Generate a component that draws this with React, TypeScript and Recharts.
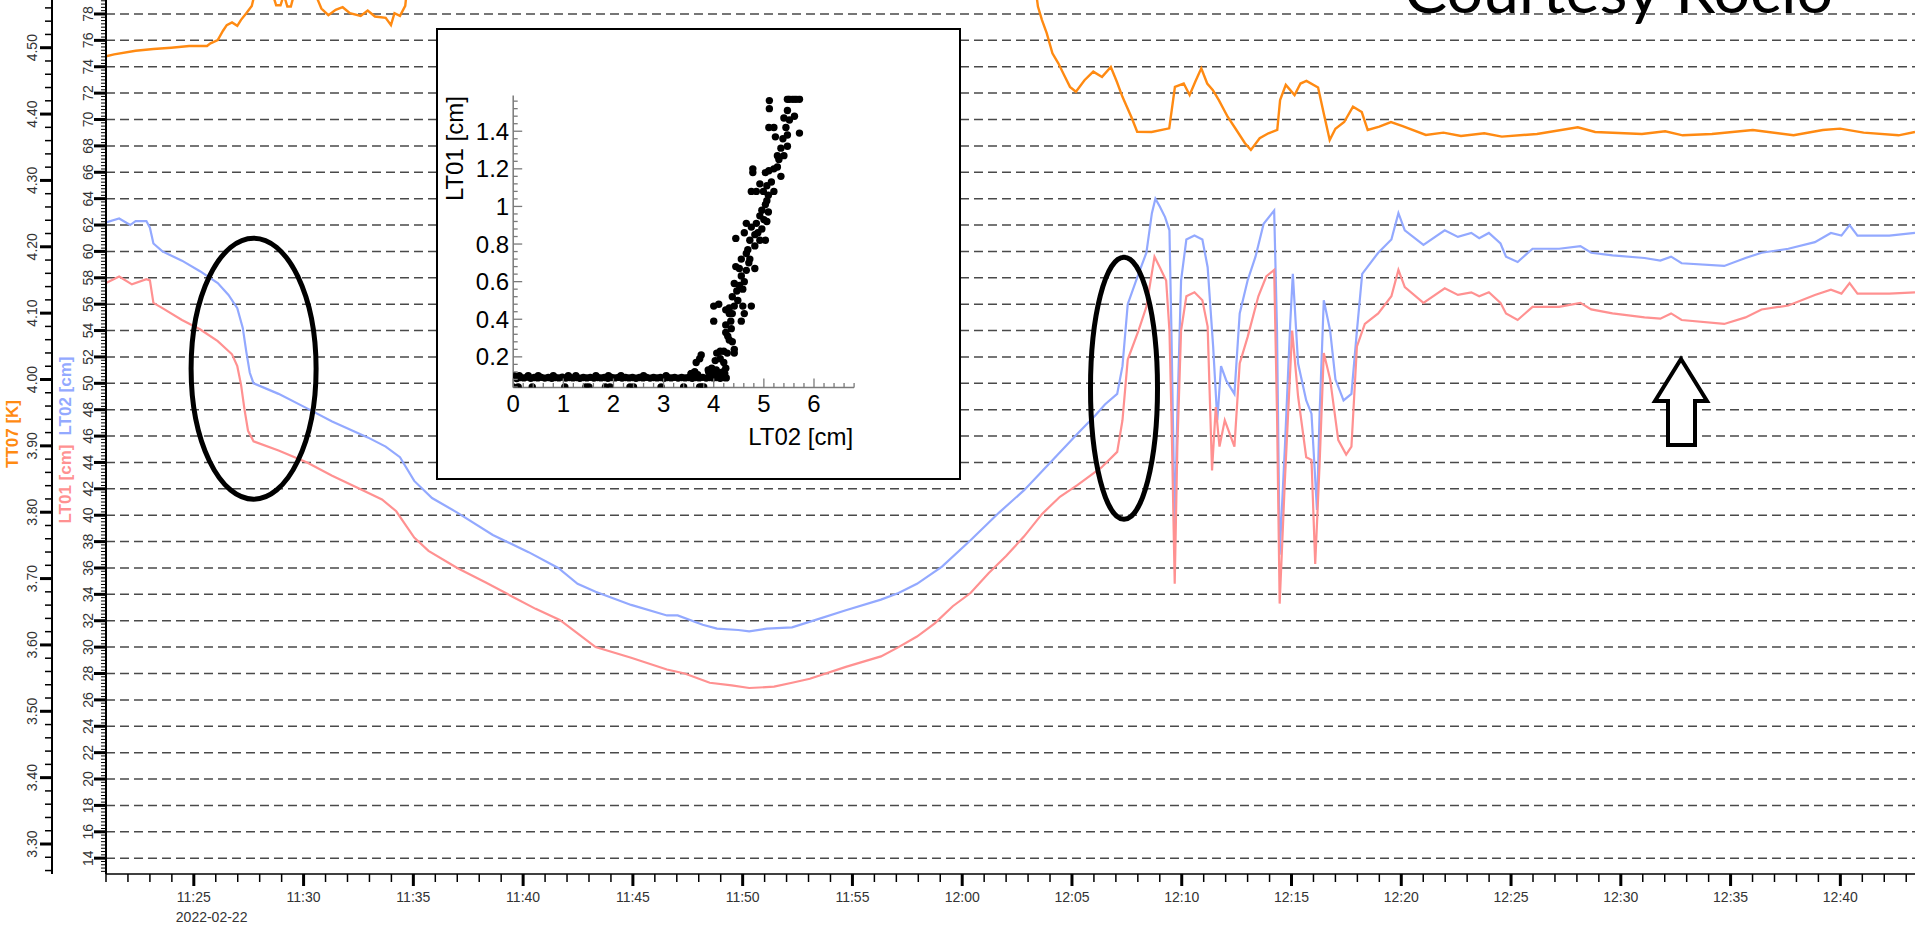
import React from 'react';
import { LineChart, Line, XAxis, YAxis, ReferenceLine, ScatterChart, Scatter } from 'recharts';

// ---------- time series (t = minutes after 11:00) ----------
const LT02: [number, number][] = [
  [21.0,62.2],[21.6,62.5],[22.1,62.0],[22.35,62.3],[22.84,62.3],[23.0,61.8],[23.16,60.6],[23.57,60.0],[24.46,59.3],[25.28,58.5],
  [26.09,57.6],[26.58,56.7],[26.98,55.7],[27.23,54.2],[27.39,52.4],[27.55,50.8],[27.72,50.0],[28.86,49.2],[30.16,48.1],[31.3,47.1],
  [32.92,45.9],[33.74,45.2],[34.39,44.4],[35.04,42.6],[35.85,41.3],[37.0,40.2],[38.62,38.5],[40.25,37.2],[41.6,36.0],[42.48,34.8],
  [43.3,34.2],[44.92,33.2],[46.55,32.4],[47.04,32.4],[48.18,31.7],[48.83,31.4],[49.8,31.3],[50.3,31.2],[51.1,31.4],[52.25,31.5],
  [53.4,32.1],[54.7,32.8],[56.3,33.6],[57.1,34.1],[57.94,34.8],[59.08,36.1],[60.38,38.1],[61.68,40.2],[62.82,41.9],[63.96,43.9],
  [65.26,46.2],[66.08,47.6],[66.5,48.4],[67.06,49.2],[67.3,51.3],[67.54,56.0],[68.03,58.3],[68.39,59.9],[68.64,62.9],[68.8,64.0],
  [69.0,63.4],[69.24,62.6],[69.44,61.6],[69.53,54.0],[69.68,38.9],[69.8,47.7],[69.97,57.8],[70.21,60.9],[70.58,61.2],[70.94,60.9],
  [71.18,58.8],[71.43,52.8],[71.62,47.2],[71.79,51.3],[72.03,50.2],[72.4,49.2],[72.64,55.3],[73.0,57.8],[73.36,59.6],[73.73,62.1],
  [74.21,63.1],[74.34,54.0],[74.46,37.0],[74.7,45.2],[74.94,54.5],[75.06,58.3],[75.3,51.5],[75.67,48.7],[75.91,47.7],[76.16,40.4],
  [76.28,47.7],[76.47,56.3],[76.76,54.0],[77.0,50.3],[77.37,48.7],[77.73,49.2],[77.98,54.0],[78.22,58.3],[78.95,59.9],[79.55,60.9],
  [79.87,62.9],[80.16,61.6],[81.01,60.5],[81.98,61.6],[82.58,61.1],[83.19,61.4],[83.55,61.0],[83.99,61.4],[84.52,60.6],[84.77,59.6],
  [85.3,59.2],[85.98,60.2],[87.19,60.2],[88.16,60.4],[88.65,59.9],[89.62,59.7],[91.08,59.5],[91.8,59.3],[92.29,59.6],[92.77,59.1],
  [94.71,58.9],[95.68,59.5],[96.41,59.9],[97.63,60.2],[98.84,60.7],[99.57,61.4],[100.05,61.2],[100.42,62.0],[100.78,61.2],[102.23,61.2],
  [103.4,61.4],
];

const LT01: [number, number][] = [
  [21.0,57.6],[21.6,58.1],[22.18,57.5],[22.84,57.9],[23.0,57.8],[23.16,56.1],[23.57,55.7],[24.46,54.8],[25.28,54.1],[26.09,53.2],
  [26.74,52.2],[26.98,51.3],[27.15,49.9],[27.31,48.0],[27.47,46.4],[27.72,45.6],[28.86,44.9],[30.16,44.0],[31.3,43.0],[32.43,42.1],
  [33.57,41.2],[34.22,40.3],[35.04,38.3],[35.69,37.3],[37.0,36.0],[38.3,34.9],[39.43,33.9],[40.57,32.9],[41.67,32.06],[42.48,31.05],
  [43.3,30.0],[44.92,29.2],[46.55,28.3],[47.36,28.0],[48.5,27.3],[49.5,27.1],[50.3,26.9],[51.43,27.0],[52.25,27.3],[53.06,27.6],
  [54.7,28.5],[56.3,29.3],[57.1,30.0],[57.94,30.8],[58.75,31.8],[59.57,33.1],[60.38,34.1],[61.2,35.6],[62.0,36.9],[62.82,38.4],
  [63.64,40.1],[64.45,41.4],[65.26,42.3],[66.33,43.6],[67.06,44.8],[67.3,47.2],[67.54,51.8],[68.03,54.0],[68.39,55.8],[68.76,59.6],
  [69.0,58.8],[69.29,57.8],[69.44,54.0],[69.53,47.7],[69.68,34.8],[69.8,45.2],[69.97,54.0],[70.21,56.6],[70.58,56.9],[70.94,56.3],
  [71.18,54.3],[71.38,43.4],[71.55,48.2],[71.72,45.2],[71.96,47.2],[72.4,45.2],[72.64,51.5],[73.0,53.5],[73.49,56.6],[73.85,58.1],
  [74.21,58.6],[74.34,47.7],[74.46,33.3],[74.7,42.7],[75.03,54.0],[75.3,49.0],[75.67,44.4],[75.91,44.2],[76.08,36.3],[76.28,43.9],
  [76.47,52.3],[76.76,50.3],[77.13,45.7],[77.49,44.6],[77.73,45.2],[77.98,52.8],[78.34,54.5],[78.95,55.3],[79.55,56.6],[79.87,58.6],
  [80.16,57.3],[81.01,56.1],[81.98,57.2],[82.58,56.7],[83.19,56.9],[83.55,56.6],[83.99,56.9],[84.52,56.1],[84.77,55.3],[85.3,54.8],
  [85.98,55.8],[87.19,55.8],[88.16,56.1],[88.65,55.6],[89.62,55.3],[91.08,55.0],[91.8,54.9],[92.29,55.3],[92.77,54.8],[94.71,54.5],
  [95.68,55.0],[96.41,55.6],[97.63,55.9],[98.84,56.7],[99.57,57.1],[100.05,56.8],[100.42,57.6],[100.78,56.8],[102.23,56.8],[103.4,56.9],
];

const TT07: [number, number][] = [
  [21.0,4.487],[21.37,4.490],[22.35,4.4955],[23.16,4.498],[23.97,4.500],[24.79,4.5025],[25.6,4.5025],[25.76,4.5066],[26.09,4.5116],[26.33,4.5256],
  [26.5,4.534],[26.74,4.538],[26.98,4.533],[27.15,4.542],[27.39,4.552],[27.64,4.563],[27.8,4.585],[28.3,4.6],[28.6,4.58],[28.75,4.564],
  [28.95,4.564],[29.1,4.58],[29.26,4.562],[29.42,4.562],[29.6,4.585],[30.3,4.6],[30.81,4.559],[31.13,4.549],[31.46,4.557],[31.78,4.561],
  [32.11,4.552],[32.6,4.548],[32.92,4.556],[33.25,4.547],[33.74,4.545],[33.98,4.534],[34.14,4.552],[34.39,4.548],[34.63,4.563],[34.75,4.6],
  [40.0,4.65],[50.0,4.65],[60.0,4.65],[63.3,4.6],[63.45,4.562],[63.63,4.542],[63.85,4.522],[64.11,4.4916],[64.38,4.4765],[64.64,4.459],
  [64.91,4.441],[65.18,4.4337],[65.57,4.451],[65.97,4.464],[66.37,4.456],[66.77,4.471],[67.04,4.449],[67.3,4.426],[67.7,4.396],[67.97,4.3734],
  [68.63,4.373],[69.43,4.3785],[69.69,4.441],[70.09,4.446],[70.36,4.4287],[70.62,4.449],[70.89,4.469],[71.16,4.446],[71.42,4.436],[71.69,4.421],
  [72.09,4.396],[72.49,4.376],[72.88,4.356],[73.15,4.346],[73.55,4.3635],[73.95,4.371],[74.35,4.376],[74.48,4.421],[74.74,4.444],[75.14,4.4287],
  [75.41,4.446],[75.68,4.45],[76.21,4.44],[76.47,4.401],[76.74,4.361],[77.0,4.378],[77.4,4.388],[77.8,4.411],[78.2,4.403],[78.47,4.376],
  [79.0,4.381],[79.53,4.388],[80.06,4.382],[81.12,4.3685],[81.92,4.372],[82.72,4.367],[83.78,4.371],[84.58,4.366],[86.18,4.37],[88.04,4.38],
  [88.83,4.373],[90.96,4.37],[92.02,4.374],[92.82,4.368],[94.15,4.37],[96.01,4.376],[97.87,4.368],[99.2,4.376],[99.99,4.378],[101.06,4.372],
  [102.65,4.368],[103.4,4.373],
];

// ---------- inset scatter: [LT02, LT01] ----------
const SCATTER_FLAT: [number, number][] = [
  [0,0.09],[0.07,0.085],[0.14,0.09],[0.21,0.088],[0.28,0.092],[0.35,0.086],[0.42,0.09],[0.49,0.088],[0.56,0.091],[0.63,0.087],
  [0.7,0.09],[0.77,0.086],[0.84,0.09],[0.91,0.088],[0.98,0.092],[1.05,0.087],[1.12,0.09],[1.19,0.088],[1.26,0.09],[1.33,0.086],
  [1.4,0.09],[1.47,0.088],[1.54,0.091],[1.61,0.087],[1.68,0.09],[1.75,0.088],[1.82,0.09],[1.89,0.086],[1.96,0.09],[2.03,0.088],
  [2.1,0.091],[2.17,0.087],[2.24,0.09],[2.31,0.088],[2.38,0.09],[2.45,0.086],[2.52,0.09],[2.59,0.088],[2.66,0.091],[2.73,0.087],
  [2.8,0.09],[2.87,0.088],[2.94,0.09],[3.01,0.086],[3.08,0.09],[3.15,0.088],[3.22,0.091],[3.29,0.087],[3.36,0.09],[3.43,0.088],
  [3.5,0.09],[3.57,0.086],[3.64,0.09],[3.71,0.088],[3.78,0.091],[3.85,0.087],[3.92,0.09],[3.99,0.088],[4.06,0.09],[4.13,0.086],
  [4.2,0.09],[4.25,0.088],
  [0.02,0.1],[0.12,0.1],[0.3,0.1],[0.5,0.1],[0.8,0.1],[1.1,0.1],[1.25,0.1],[1.65,0.1],[1.9,0.1],[2.15,0.1],
  [2.6,0.1],[3.05,0.1],[3.55,0.11],[3.62,0.12],[3.68,0.105],[3.9,0.12],[4.0,0.11],[4.05,0.13],[4.12,0.115],[4.18,0.12],[4.22,0.11],
  [0,0.04],[0.1,0.04],[0.38,0.04],[1.03,0.04],[1.45,0.04],[1.51,0.04],[1.84,0.04],[1.93,0.04],[2.33,0.04],[2.4,0.04],
  [2.95,0.04],[3.4,0.04],[3.72,0.04],[3.76,0.04],[3.8,0.04],
];

const SCATTER_RISE: [number, number][] = [
  [5.11,1.563],[5.11,1.52],[5.51,1.57],[5.47,1.57],[5.58,1.57],[5.64,1.57],[5.71,1.57],[5.47,1.51],[5.40,1.47],[5.61,1.48],
  [5.51,1.46],[5.10,1.42],[5.20,1.42],[5.23,1.37],[5.44,1.42],[5.47,1.38],[5.71,1.39],[5.34,1.31],[5.47,1.32],[5.27,1.27],
  [5.40,1.27],[5.20,1.20],[5.27,1.21],[5.34,1.16],[5.10,1.19],[5.03,1.18],[4.78,1.20],[4.78,1.18],[4.92,1.12],[5.06,1.11],
  [5.20,1.08],[4.75,1.08],[4.85,1.08],[4.99,1.08],[5.09,1.06],[5.06,1.03],[5.03,1.01],[4.96,0.98],[5.09,0.97],[4.92,0.95],
  [5.06,0.92],[4.65,0.91],[4.75,0.89],[4.85,0.91],[4.96,0.88],[4.82,0.85],[4.92,0.82],[5.03,0.82],[4.72,0.82],[4.68,0.77],
  [4.82,0.79],[4.44,0.83],[4.61,0.86],[4.65,0.75],[4.55,0.72],[4.72,0.72],[4.82,0.67],[4.65,0.66],[4.51,0.67],[4.44,0.68],
  [4.55,0.63],[4.61,0.60],[4.51,0.58],[4.41,0.59],[4.58,0.56],[4.37,0.52],[4.48,0.50],[4.58,0.47],[4.75,0.47],[4.41,0.47],
  [4.31,0.46],[4.10,0.48],[4.00,0.47],[4.00,0.39],[4.24,0.45],[4.31,0.43],[4.37,0.43],[4.55,0.39],[4.61,0.43],[4.24,0.37],
  [4.34,0.39],[4.24,0.33],[4.31,0.29],[4.37,0.28],[4.41,0.24],[4.41,0.22],[4.27,0.22],[4.20,0.23],[4.13,0.23],[4.06,0.22],
  [4.03,0.18],[4.13,0.19],[4.20,0.17],[4.24,0.14],[3.96,0.14],[3.89,0.13],[3.65,0.17],[3.75,0.21],[3.72,0.19],[3.62,0.12],
  [3.55,0.11],[4.28,0.31],[4.35,0.35],[4.46,0.55],[4.7,0.7],[4.88,0.86],[5.0,0.93],[5.15,1.13],[5.3,1.25],[5.38,1.36],
];

// ---------- tick labels ----------
const TIME_MAJOR_MIN = [25, 30, 35, 40, 45, 50, 55, 60, 65, 70, 75, 80, 85, 90, 95, 100];
const TIME_MAJOR_LABELS = ['11:25', '11:30', '11:35', '11:40', '11:45', '11:50', '11:55', '12:00', '12:05', '12:10', '12:15', '12:20', '12:25', '12:30', '12:35', '12:40'];
const DATE_LABEL = '2022-02-22';
const LT_LABELS = [14, 16, 18, 20, 22, 24, 26, 28, 30, 32, 34, 36, 38, 40, 42, 44, 46, 48, 50, 52, 54, 56, 58, 60, 62, 64, 66, 68, 70, 72, 74, 76, 78];
const TT_LABELS = ['3.30', '3.40', '3.50', '3.60', '3.70', '3.80', '3.90', '4.00', '4.10', '4.20', '4.30', '4.40', '4.50'];
const INSET_X_LABELS = ['0', '1', '2', '3', '4', '5', '6'];
const INSET_Y_LABELS = ['0.2', '0.4', '0.6', '0.8', '1', '1.2', '1.4'];

const FONT = '"Liberation Sans", Arial, Helvetica, sans-serif';
const BLUE = '#93a9ff';
const PINK = '#ff9191';
const ORANGE = '#ff8a12';

const r2 = (v: number) => Math.round(v * 1000) / 1000;
const rangeTicks = (a: number, b: number, s: number) => {
  const out: number[] = [];
  for (let v = a; v <= b + 1e-9; v += s) out.push(r2(v));
  return out;
};

const TIME_TICKS = rangeTicks(21, 103, 1);
const LT_TICKS = rangeTicks(13, 79, 0.25);
const TT_TICKS = rangeTicks(3.26, 4.56, 0.02);
const IX_TICKS = rangeTicks(0, 6.8, 0.2);
const IY_TICKS = rangeTicks(0.04, 1.56, 0.04);

const toObj = (arr: [number, number][]) => arr.map(([t, v]) => ({ t, v }));

const XTick = (props: any) => {
  const { x, y, payload } = props;
  const m = Math.round(payload.value);
  const idx = TIME_MAJOR_MIN.indexOf(m);
  const major = idx >= 0;
  return (
    <g>
      <line x1={x} x2={x} y1={y} y2={y + (major ? 12 : 8)} stroke="#000" strokeWidth={major ? 3 : 1.5} />
      {major && (
        <text x={x} y={y + 27.5} textAnchor="middle" fontSize={14} fill="#333" fontFamily={FONT}>{TIME_MAJOR_LABELS[idx]}</text>
      )}
      {idx === 0 && (
        <text x={x - 18} y={y + 47.5} textAnchor="start" fontSize={14} fill="#333" fontFamily={FONT}>{DATE_LABEL}</text>
      )}
    </g>
  );
};

const LtTick = (props: any) => {
  const { x, y, payload } = props;
  const v = payload.value;
  const major = LT_LABELS.some((l) => Math.abs(l - v) < 1e-6);
  return (
    <g>
      <line x1={x - (major ? 12 : 5)} x2={x} y1={y} y2={y} stroke="#000" strokeWidth={major ? 3 : 1} />
      {major && (
        <text transform={`translate(${x - 18},${y}) rotate(-90)`} textAnchor="middle" dominantBaseline="central" fontSize={14} fill="#333" fontFamily={FONT}>{v}</text>
      )}
    </g>
  );
};

const TtTick = (props: any) => {
  const { x, y, payload } = props;
  const v = payload.value;
  const idx = TT_LABELS.findIndex((l) => Math.abs(parseFloat(l) - v) < 1e-6);
  const major = idx >= 0;
  return (
    <g>
      <line x1={x - (major ? 12 : 7)} x2={x} y1={y} y2={y} stroke="#000" strokeWidth={major ? 3 : 1.5} />
      {major && (
        <text transform={`translate(${x - 20},${y}) rotate(-90)`} textAnchor="middle" dominantBaseline="central" fontSize={14} fill="#333" fontFamily={FONT}>{TT_LABELS[idx]}</text>
      )}
    </g>
  );
};

const INSET_GRAY = '#7a7a7a';
const isInt = (v: number) => Math.abs(v - Math.round(v)) < 1e-6;
const isMajorY = (v: number) => INSET_Y_LABELS.some((l) => Math.abs(parseFloat(l) - v) < 1e-6);

const IXBottomTick = (props: any) => {
  const { x, y, payload } = props;
  const v = payload.value;
  const major = isInt(v);
  return (
    <g>
      <line x1={x} x2={x} y1={y} y2={y - (major ? 9 : 4.5)} stroke={INSET_GRAY} strokeWidth={1.3} />
      {major && <text x={x} y={y + 24} textAnchor="middle" fontSize={24} fill="#000" fontFamily={FONT}>{INSET_X_LABELS[Math.round(v)]}</text>}
    </g>
  );
};
const IXTopTick = (props: any) => {
  const { x, y, payload } = props;
  const major = isInt(payload.value);
  return <line x1={x} x2={x} y1={y} y2={y + (major ? 9 : 4.5)} stroke={INSET_GRAY} strokeWidth={1.3} />;
};
const IYLeftTick = (props: any) => {
  const { x, y, payload } = props;
  const v = payload.value;
  const idx = INSET_Y_LABELS.findIndex((l) => Math.abs(parseFloat(l) - v) < 1e-6);
  const major = idx >= 0;
  return (
    <g>
      <line x1={x} x2={x + (major ? 9 : 4.5)} y1={y} y2={y} stroke={INSET_GRAY} strokeWidth={1.3} />
      {major && <text x={x - 4} y={y + 8.6} textAnchor="end" fontSize={24} fill="#000" fontFamily={FONT}>{INSET_Y_LABELS[idx]}</text>}
    </g>
  );
};
const IYRightTick = (props: any) => {
  const { x, y, payload } = props;
  const major = isMajorY(payload.value);
  return <line x1={x} x2={x - (major ? 9 : 4.5)} y1={y} y2={y} stroke={INSET_GRAY} strokeWidth={1.3} />;
};

const Dot = (props: any) => <circle cx={props.cx} cy={props.cy} r={3.7} fill="#000" />;

export default function App() {
  const lt02 = toObj(LT02);
  const lt01 = toObj(LT01);
  const tt07 = toObj(TT07);
  const scatterData = [...SCATTER_FLAT, ...SCATTER_RISE].map(([x, y]) => ({ x, y }));

  return (
    <div style={{ position: 'absolute', left: 0, top: 0, width: 1915, height: 925, background: '#fff', overflow: 'hidden' }}>
      <div style={{ position: 'absolute', left: 0, top: 0 }}>
        <LineChart width={1915} height={925} margin={{ top: 0, right: 0, bottom: 0, left: 0 }}>
          <XAxis
            dataKey="t" type="number" domain={[21.0, 103.4]} ticks={TIME_TICKS} interval={0}
            tick={XTick} tickLine={false} tickSize={0} tickMargin={0} height={51}
            axisLine={{ stroke: '#000', strokeWidth: 1.5 }} allowDataOverflow
          />
          <YAxis
            yAxisId="lt" orientation="left" type="number" domain={[12.8, 79.06]} ticks={LT_TICKS} interval={0}
            tick={LtTick} tickLine={false} tickSize={0} tickMargin={0} width={54}
            axisLine={{ stroke: '#000', strokeWidth: 2 }} allowDataOverflow
          />
          <YAxis
            yAxisId="tt" orientation="left" type="number" domain={[3.2548, 4.5719]} ticks={TT_TICKS} interval={0}
            tick={TtTick} tickLine={false} tickSize={0} tickMargin={0} width={52}
            axisLine={{ stroke: '#000', strokeWidth: 2 }} allowDataOverflow
          />
          {LT_LABELS.map((v) => (
            <ReferenceLine key={v} yAxisId="lt" y={v} stroke="#4a4a4a" strokeWidth={1.5} strokeDasharray="9 5" />
          ))}
          <Line yAxisId="lt" data={lt02} dataKey="v" type="linear" stroke={BLUE} strokeWidth={2.2} dot={false} isAnimationActive={false} />
          <Line yAxisId="lt" data={lt01} dataKey="v" type="linear" stroke={PINK} strokeWidth={2.2} dot={false} isAnimationActive={false} />
          <Line yAxisId="tt" data={tt07} dataKey="v" type="linear" stroke={ORANGE} strokeWidth={2.4} dot={false} isAnimationActive={false} />
        </LineChart>
      </div>

      {/* axis titles */}
      <svg width={1915} height={925} style={{ position: 'absolute', left: 0, top: 0, pointerEvents: 'none' }}>
        <text transform="translate(12,434) rotate(-90)" textAnchor="middle" dominantBaseline="central" fontSize={17} fontWeight="bold" fill={ORANGE} fontFamily={FONT}>TT07 [K]</text>
        <text transform="translate(65,396) rotate(-90)" textAnchor="middle" dominantBaseline="central" fontSize={17} fontWeight="bold" fill={BLUE} fontFamily={FONT}>LT02 [cm]</text>
        <text transform="translate(65,484) rotate(-90)" textAnchor="middle" dominantBaseline="central" fontSize={17} fontWeight="bold" fill={PINK} fontFamily={FONT}>LT01 [cm]</text>
        {/* annotations */}
        <ellipse cx={253.6} cy={368.7} rx={62.5} ry={130.5} fill="none" stroke="#000" strokeWidth={5} />
        <ellipse cx={1124} cy={388.3} rx={33.5} ry={131} fill="none" stroke="#000" strokeWidth={5} />
        <polygon points="1681,359 1707,401 1695,401 1695,445 1668,445 1668,401 1655,401" fill="#fff" stroke="#000" strokeWidth={4} strokeLinejoin="miter" />
        <text x={1404} y={12.7} fontSize={62} fill="#000" fontFamily='Lato, "Liberation Sans", sans-serif' textLength={429} lengthAdjust="spacingAndGlyphs">Courtesy Rocío</text>
      </svg>

      {/* inset */}
      <div style={{ position: 'absolute', left: 436, top: 28, width: 525, height: 452, background: '#fff', border: '2.5px solid #000', boxSizing: 'border-box' }}>
        <div style={{ position: 'absolute', left: 0, top: 0 }}>
          <ScatterChart width={520} height={447} margin={{ top: 65.5, right: 103.9, bottom: 0, left: 0 }}>
            <XAxis xAxisId="b" type="number" dataKey="x" domain={[0, 6.8]} ticks={IX_TICKS} interval={0} orientation="bottom"
              tick={IXBottomTick} tickLine={false} tickSize={0} tickMargin={0} height={89.5}
              axisLine={{ stroke: INSET_GRAY, strokeWidth: 1.5 }} allowDataOverflow />
            <XAxis xAxisId="t" type="number" dataKey="x" domain={[0, 6.8]} ticks={IX_TICKS} interval={0} orientation="top"
              tick={IXTopTick} tickLine={false} tickSize={0} tickMargin={0} height={0}
              axisLine={{ stroke: INSET_GRAY, strokeWidth: 1.5 }} allowDataOverflow />
            <YAxis yAxisId="l" type="number" dataKey="y" domain={[0.037, 1.59]} ticks={IY_TICKS} interval={0} orientation="left"
              tick={IYLeftTick} tickLine={false} tickSize={0} tickMargin={0} width={75.2}
              axisLine={{ stroke: INSET_GRAY, strokeWidth: 1.5 }} allowDataOverflow />
            <YAxis yAxisId="r" type="number" dataKey="y" domain={[0.037, 1.59]} ticks={IY_TICKS} interval={0} orientation="right"
              tick={IYRightTick} tickLine={false} tickSize={0} tickMargin={0} width={0}
              axisLine={{ stroke: INSET_GRAY, strokeWidth: 1.5 }} allowDataOverflow />
            <Scatter xAxisId="b" yAxisId="l" data={scatterData} shape={Dot} isAnimationActive={false} />
          </ScatterChart>
        </div>
        <svg width={520} height={447} style={{ position: 'absolute', left: 0, top: 0, pointerEvents: 'none' }}>
          <text x={415.1} y={414.8} textAnchor="end" fontSize={24} fill="#000" fontFamily={FONT}>LT02 [cm]</text>
          <text transform="translate(24.5,66.2) rotate(-90)" textAnchor="end" fontSize={24} fill="#000" fontFamily={FONT}>LT01 [cm]</text>
        </svg>
      </div>
    </div>
  );
}
